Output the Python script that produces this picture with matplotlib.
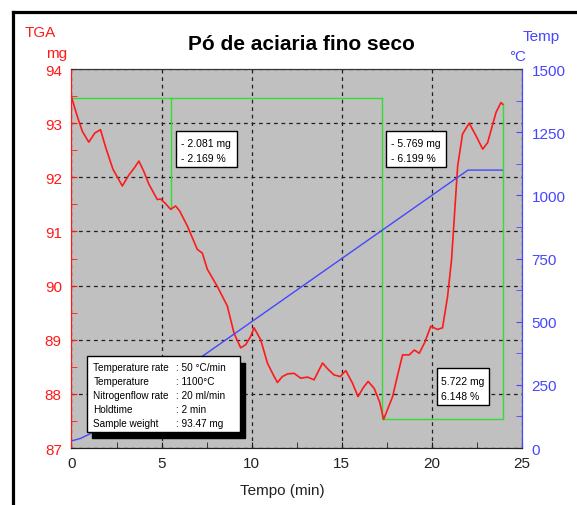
import numpy as np
import matplotlib.pyplot as plt
from matplotlib.lines import Line2D
from matplotlib.patches import Rectangle
from matplotlib.ticker import MultipleLocator

plt.rcParams['font.family'] = ['Liberation Sans', 'DejaVu Sans']

# TGA mass curve (mg)
time_min = [0, 0.3, 0.6, 0.96, 1.3, 1.61, 1.9, 2.3, 2.82, 3.18, 3.5, 3.74, 4.0,
            4.3, 4.76, 4.94, 5.2, 5.5, 5.78, 6.0, 6.43, 6.98, 7.26, 7.54, 8.1,
            8.65, 9.02, 9.39, 9.67, 9.94, 10.13, 10.5, 10.87, 11.2, 11.43, 11.7,
            12.0, 12.35, 12.72, 13.1, 13.46, 13.93, 14.25, 14.57, 14.91, 15.22,
            15.59, 15.9, 16.2, 16.46, 16.8, 17.1, 17.32, 17.82, 18.1, 18.37,
            18.74, 19.02, 19.3, 19.6, 19.94, 20.31, 20.59, 20.87, 21.09, 21.43,
            21.7, 22.07, 22.44, 22.82, 23.09, 23.56, 23.83, 23.93]
mass_mg = [93.48, 93.15, 92.85, 92.65, 92.82, 92.88, 92.55, 92.15, 91.84, 92.04,
           92.18, 92.30, 92.12, 91.87, 91.59, 91.60, 91.52, 91.41, 91.47, 91.38,
           91.10, 90.67, 90.60, 90.30, 89.98, 89.62, 89.12, 88.85, 88.91, 89.06,
           89.22, 89.00, 88.57, 88.35, 88.21, 88.32, 88.37, 88.38, 88.29, 88.31,
           88.26, 88.57, 88.45, 88.35, 88.32, 88.43, 88.20, 87.95, 88.12, 88.23,
           88.10, 87.85, 87.53, 87.95, 88.35, 88.72, 88.72, 88.81, 88.75, 88.95,
           89.25, 89.19, 89.22, 89.80, 90.48, 92.21, 92.80, 93.00, 92.77, 92.52,
           92.64, 93.20, 93.38, 93.35]

# temperature programme
temp_time = [0, 0.5, 1.0, 2.0, 22.0, 23.9]
temp_c = [28, 38, 55, 100, 1100, 1100]

# green step marks
step1_t = [0, 17.23]
step1_m = [93.46, 93.46]
step2_t = [5.52, 5.52]
step2_m = [93.46, 91.42]
step3_t = [17.23, 17.23, 23.97, 23.97]
step3_m = [93.46, 87.53, 87.53, 93.35]

info_labels = ["Temperature rate", "Temperature", "Nitrogenflow rate",
               "Holdtime", "Sample weight"]
info_values = [": 50 \u00b0C/min", ": 1100\u00b0C", ": 20 ml/min", ": 2 min",
               ": 93.47 mg"]

red = '#ff1a1a'
blue = '#4646ff'
green = '#33dd33'

fig = plt.figure(figsize=(5.77, 5.06), dpi=100)
ax = fig.add_axes([0.1239, 0.1126, 0.7808, 0.749])
ax.set_facecolor('#c0c0c0')
ax2 = ax.twinx()

ax.plot(step1_t, step1_m, color=green, lw=1)
ax.plot(step2_t, step2_m, color=green, lw=1)
ax.plot(step3_t, step3_m, color=green, lw=1)
ax.plot(time_min, mass_mg, color=red, lw=1.2)
ax2.plot(temp_time, temp_c, color=blue, lw=1)

ax.set_xlim(0, 25)
ax.set_ylim(87, 94)
ax2.set_ylim(0, 1500)

ax.xaxis.set_major_locator(MultipleLocator(5))
ax.xaxis.set_minor_locator(MultipleLocator(2.5))
ax.yaxis.set_major_locator(MultipleLocator(1))
ax.yaxis.set_minor_locator(MultipleLocator(0.5))
ax2.yaxis.set_major_locator(MultipleLocator(250))
ax2.yaxis.set_minor_locator(MultipleLocator(125))

ax.grid(True, which='major', color='#202020', linestyle=(0, (3, 3)), lw=0.9)
ax.set_axisbelow(True)

ax.tick_params(axis='y', which='both', direction='in', length=4, color=red,
               labelcolor=red, labelsize=11, pad=7)
ax.tick_params(axis='x', which='both', direction='in', length=4, color='#222222',
               labelcolor='#222222', labelsize=11, pad=6)
ax2.tick_params(axis='y', which='both', direction='in', length=4, color=blue,
                labelcolor=blue, labelsize=11, pad=7)

for a in (ax, ax2):
    a.spines['left'].set_color(red)
    a.spines['right'].set_color(blue)
    a.spines['top'].set_color('#333333')
    a.spines['bottom'].set_color('#222222')

# annotation boxes
def note_box(x0, y0, x1, y1, shadow=False):
    if shadow:
        ax2.add_patch(Rectangle((x0 + 0.0122, y0 - 0.0172), x1 - x0, y1 - y0,
                                transform=ax2.transAxes, facecolor='black',
                                edgecolor='black', zorder=5))
    ax2.add_patch(Rectangle((x0, y0), x1 - x0, y1 - y0, transform=ax2.transAxes,
                            facecolor='white', edgecolor='black', lw=1, zorder=6))

note_box(0.232, 0.7406, 0.3667, 0.837)
ax2.text(0.2424, 0.805, "- 2.081 mg", transform=ax2.transAxes, fontsize=7.5,
         va='center', zorder=7)
ax2.text(0.2424, 0.764, "- 2.169 %", transform=ax2.transAxes, fontsize=7.5,
         va='center', zorder=7)

note_box(0.6974, 0.7406, 0.8306, 0.837)
ax2.text(0.7092, 0.805, "- 5.769 mg", transform=ax2.transAxes, fontsize=7.5,
         va='center', zorder=7)
ax2.text(0.7092, 0.764, "- 6.199 %", transform=ax2.transAxes, fontsize=7.5,
         va='center', zorder=7)

note_box(0.812, 0.1135, 0.9268, 0.2103)
ax2.text(0.8202, 0.176, "5.722 mg", transform=ax2.transAxes, fontsize=7.5,
         va='center', zorder=7)
ax2.text(0.8202, 0.138, "6.148 %", transform=ax2.transAxes, fontsize=7.5,
         va='center', zorder=7)

note_box(0.0337, 0.043, 0.374, 0.242, shadow=True)
rows_y = [0.213, 0.176, 0.140, 0.103, 0.066]
for lab, val, yy in zip(info_labels, info_values, rows_y):
    ax2.text(0.0484, yy, lab, transform=ax2.transAxes, fontsize=7.2,
             va='center', zorder=7)
    ax2.text(0.232, yy, val, transform=ax2.transAxes, fontsize=7.2,
             va='center', zorder=7)

# titles and axis captions
fig.text(0.522, 0.913, "P\u00f3 de aciaria fino seco", fontsize=15,
         fontweight='bold', ha='center', va='center')
fig.text(0.043, 0.935, "TGA", color=red, fontsize=11, ha='left', va='center')
fig.text(0.116, 0.894, "mg", color=red, fontsize=11, ha='right', va='center')
fig.text(0.905, 0.927, "Temp", color=blue, fontsize=11, ha='left', va='center')
fig.text(0.882, 0.888, "\u00b0C", color=blue, fontsize=11, ha='left', va='center')
fig.text(0.490, 0.030, "Tempo (min)", color='#222222', fontsize=11,
         ha='center', va='center')

# outer frame (left and top edges)
fx = 12.5 / 577
fy = 493 / 506
fig.add_artist(Line2D([fx, fx], [0, fy], color='black', lw=2.3,
                      transform=fig.transFigure))
fig.add_artist(Line2D([fx, 1], [fy, fy], color='black', lw=2.3,
                      transform=fig.transFigure))

fig.savefig("out.png", dpi=100)
